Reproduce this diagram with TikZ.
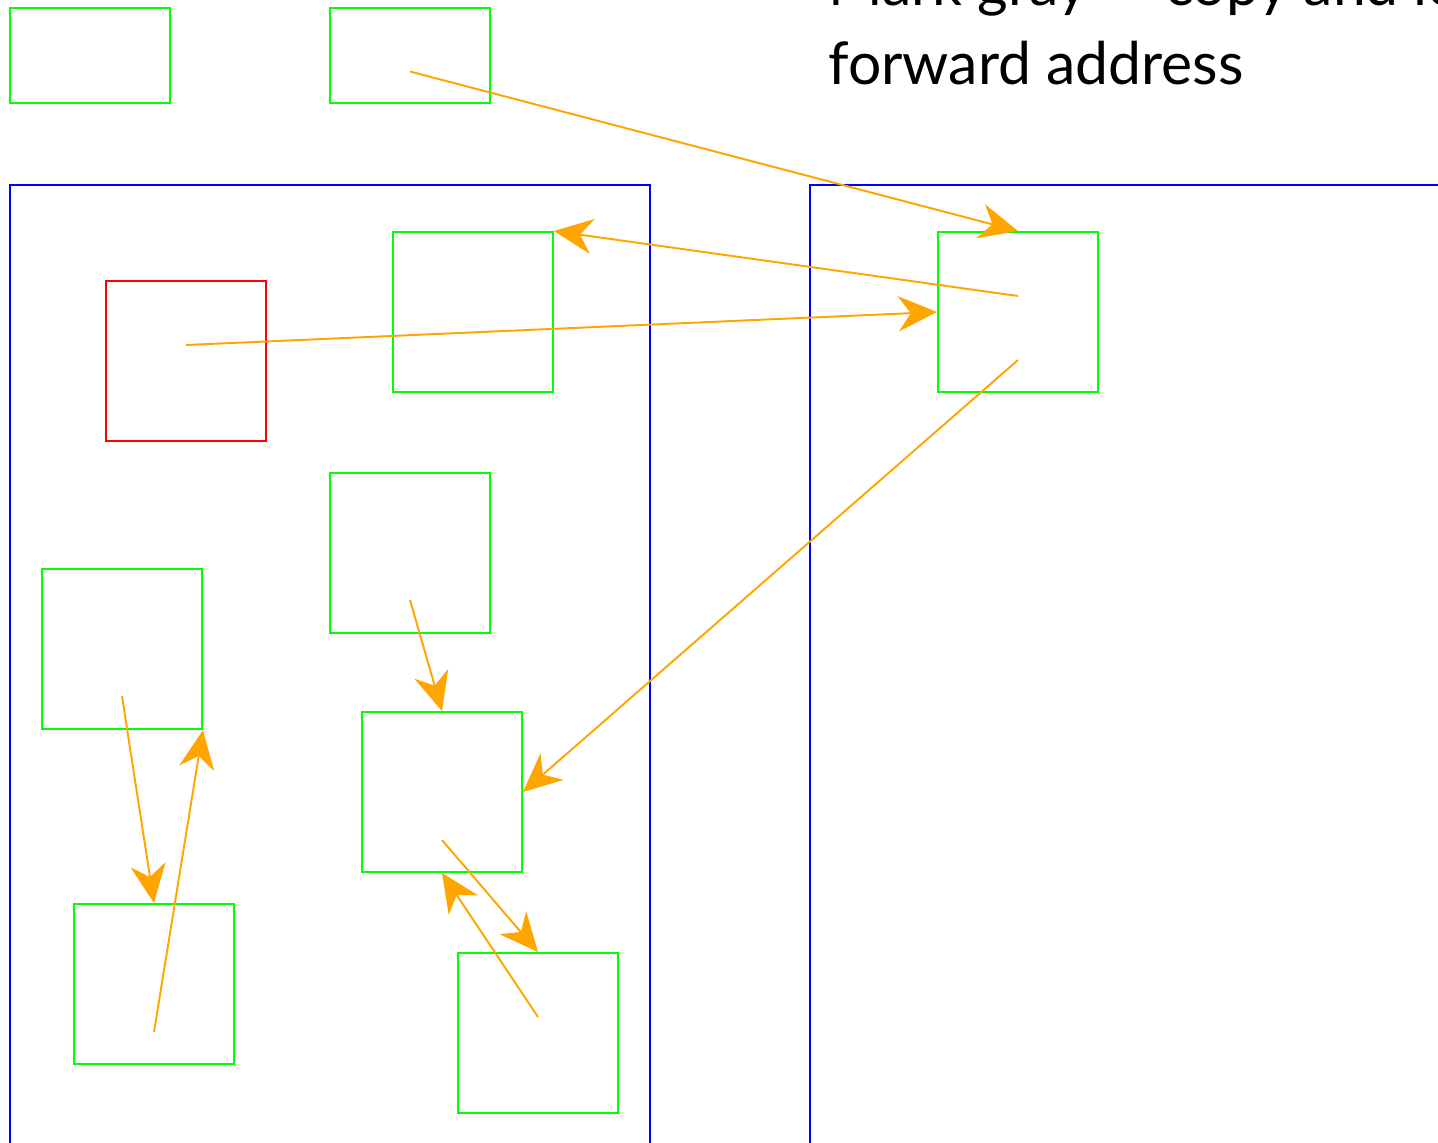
\documentclass[tikz,border=0pt]{standalone}
\usepackage{fontspec}
\setmainfont{Lato}
\usetikzlibrary{calc}
\usetikzlibrary{arrows.meta}
\definecolor{ptrorange}{HTML}{FFA500}

\tikzset{
	cell/.style={draw=green, line width=1.1pt, inner sep=0, minimum size=3.2cm},
	root/.style={draw=green, line width=1.1pt, inner sep=0, minimum width=3.2cm, minimum height=1.9cm},
	ptr/.style={draw=ptrorange, line width=1.1pt, -{Stealth[length=22pt, width=20pt, inset=7pt]}},
	space/.style={draw=blue, line width=1.1pt}
}

\begin{document}
\begin{tikzpicture}[x=0.02cm, y=-0.02cm]
		\clip (0,0) rectangle (1438,1143);
		\useasboundingbox (0,0) rectangle (1438,1143);
		% from-space and to-space
		\draw[space] (10,185) rectangle (650,1200);
		\draw[space] (810,185) rectangle (1500,1200);
		% roots
		\node[root] (r1) at (90,55.5) {};
		\node[root] (r2) at (410,55.5) {};
		% objects
		\node[cell] (A) at (473,312) {};
		\node[cell, draw=red] (X) at (186,361) {};
		\node[cell] (B) at (1018,312) {};
		\node[cell] (C) at (410,553) {};
		\node[cell] (D) at (122,649) {};
		\node[cell] (E) at (442,792) {};
		\node[cell] (F) at (154,984) {};
		\node[cell] (G) at (538,1033) {};
		% pointer fields
		\coordinate (r2p) at ($(r2)+(0,16)$);
		\coordinate (Xp) at ($(X)+(0,-16)$);
		\coordinate (Bp) at ($(B)+(0,-16)$);
		\coordinate (Bq) at ($(B)+(0,48)$);
		\coordinate (Cp) at ($(C)+(0,47)$);
		\coordinate (Dp) at ($(D)+(0,47)$);
		\coordinate (Ep) at ($(E)+(0,48)$);
		\coordinate (Fp) at ($(F)+(0,48)$);
		\coordinate (Gp) at ($(G)+(0,-16)$);
		\draw[ptr] (r2p) -- (B.north);
		\draw[ptr] (Bp) -- (A.north east);
		\draw[ptr] (Xp) -- (B.west);
		\draw[ptr] (Bq) -- (E.east);
		\draw[ptr] (Cp) -- (E.north);
		\draw[ptr] (Dp) -- (F.north);
		\draw[ptr] (Fp) -- (D.south east);
		\draw[ptr] (Ep) -- (G.north);
		\draw[ptr] (Gp) -- (E.south);
		% caption
		\node[anchor=base west, inner sep=0, font=\fontsize{33.5}{40}\selectfont] (cap1) at (828,5) {Mark gray — copy and leave};
		\node[anchor=base west, inner sep=0, font=\fontsize{33.5}{40}\selectfont] (cap2) at (828,84) {forward address};
	\end{tikzpicture}
\end{document}
